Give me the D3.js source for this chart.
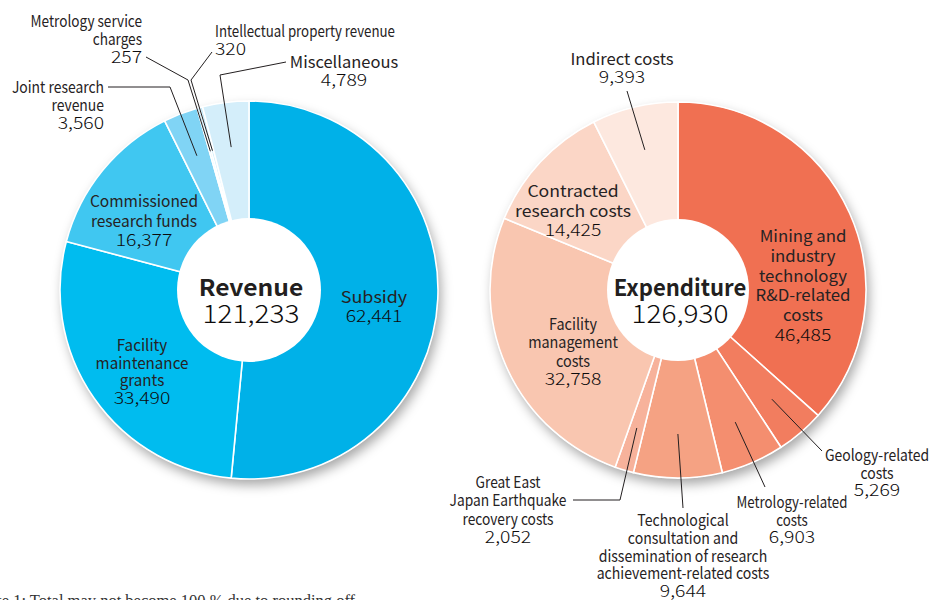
<!DOCTYPE html>
<html lang="en">
<head>
    <meta charset="UTF-8">
    <title>Revenue and Expenditure</title>
    <script src="https://d3js.org/d3.v7.min.js"></script>
    <style>
        body { margin: 0; background: #fff; }
        svg { display: block; }
        .lbl { font-family: "Noto Sans CJK JP", "Noto Sans", sans-serif; font-size: 16px; fill: #262223; }
        .num { font-family: "Noto Sans CJK JP Light", "Noto Sans CJK JP", "Noto Sans", sans-serif; font-weight: 300; fill: #0d0b0c; }
        .lead { fill: none; stroke: #231f20; stroke-width: 1; }
    </style>
</head>
<body>
<svg id="chart"></svg>
<script>
    // Revenue (left donut), clockwise from 12 o'clock
    var revenueNames = ["Subsidy", "Facility\nmaintenance\ngrants", "Commissioned\nresearch funds",
        "Joint research\nrevenue", "Metrology service\ncharges", "Intellectual property revenue", "Miscellaneous"];
    var revenueValues = [62441, 33490, 16377, 3560, 257, 320, 4789];
    var revenueTotal = 121233;

    // Expenditure (right donut), clockwise from 12 o'clock
    var expenditureNames = ["Mining and\nindustry\ntechnology\nR&D-related\ncosts", "Geology-related\ncosts",
        "Metrology-related\ncosts", "Technological\nconsultation and\ndissemination of research\nachievement-related costs",
        "Great East\nJapan Earthquake\nrecovery costs", "Facility\nmanagement\ncosts",
        "Contracted\nresearch costs", "Indirect costs"];
    var expenditureValues = [46485, 5269, 6903, 9644, 2052, 32758, 14425, 9393];
    var expenditureTotal = 126930;

    var revenueColors = ["#00b1e8", "#00bcef", "#40c7f1", "#80d4f5", "#b5e4f8", "#c6ebfa", "#d4eefa"];
    var expenditureColors = ["#f07052", "#f27d5f", "#f48e6f", "#f5a283", "#f7b29b", "#f9c6b0", "#fbd6c6", "#fde8df"];

    // label layout: x, first baseline, anchor, line height, leader elbows (label side first), horizontal squeeze
    var revenueLayout = [
        [374, 303, "middle", 19, null, 1.12],
        [142, 351, "middle", 17.7, null, 0.95],
        [144, 207, "middle", 19.5, null, 0.97],
        [104, 93, "end", 18.2, [[108, 87], [170, 87]], 0.87],
        [142, 27, "end", 18, [[146, 57], [188, 80]], 0.85],
        [215, 37, "start", 17.5, [[212, 52], [191, 80]], 0.83],
        [344, 68, "middle", 18, [[286, 62], [220, 75]], 1.03]
    ];
    var expenditureLayout = [
        [803, 242, "middle", 19.8, null, 1.05],
        [877, 461, "middle", 17.5, [[822, 451]], 0.87],
        [792, 508, "middle", 17.5, [[765, 487]], 0.83],
        [683, 526, "middle", 17.75, [[683, 508]], 0.88],
        [508, 488, "middle", 18.3, [[573, 500], [620, 500]], 0.86],
        [573, 330, "middle", 18.3, null, 0.9],
        [573, 197, "middle", 19.5, null, 1.1],
        [622, 65, "middle", 18, [[627, 91]], 1.04]
    ];

    var width = 930, height = 600;
    var svg = d3.select("#chart").attr("width", width).attr("height", height);

    var defs = svg.append("defs");
    defs.append("filter").attr("id", "shadow")
        .attr("x", "-20%").attr("y", "-20%").attr("width", "140%").attr("height", "140%")
        .append("feDropShadow")
        .attr("dx", 3).attr("dy", 6).attr("stdDeviation", 6)
        .attr("flood-color", "#000").attr("flood-opacity", 0.35);

    var fmt = d3.format(",");

    function addText(x, y, anchor, sx, size, txt, cls) {
        return svg.append("text").attr("class", cls || "lbl")
            .attr("text-anchor", anchor)
            .attr("transform", "translate(" + x + "," + y + ") scale(" + sx + ",1)")
            .style("font-size", size + "px")
            .text(txt);
    }

    function drawDonut(cx, cy, rOuter, rInner, names, values, colors, layout, title, titleSx, total) {
        var g = svg.append("g").attr("transform", "translate(" + cx + "," + cy + ")");
        var pie = d3.pie().sort(null).value(function(d) { return d; });
        var arcs = pie(values);
        var arc = d3.arc().innerRadius(0).outerRadius(rOuter);
        var leadArc = d3.arc().innerRadius(144).outerRadius(144);

        g.append("circle").attr("r", rOuter).attr("fill", "#fff").attr("filter", "url(#shadow)");

        g.selectAll("path.slice")
            .data(arcs)
            .enter().append("path")
            .attr("class", "slice")
            .attr("d", arc)
            .attr("fill", function(d, i) { return colors[i]; })
            .attr("stroke", "#fff")
            .attr("stroke-width", 1.6);

        g.append("circle").attr("r", rInner).attr("fill", "#fff");

        // leader lines from the outer labels into the thin slices
        arcs.forEach(function(d, i) {
            var pts = layout[i][4];
            if (!pts) return;
            var line = pts.map(function(p) { return [p[0] - cx, p[1] - cy]; });
            line.push(leadArc.centroid(d));
            g.append("path").attr("class", "lead").attr("d", d3.line()(line));
        });

        // labels: name lines then the value
        arcs.forEach(function(d, i) {
            var L = layout[i];
            var lines = names[i].split("\n");
            lines.forEach(function(s, k) {
                addText(L[0], L[1] + k * L[3], L[2], L[5], 16, s);
            });
            addText(L[0], L[1] + lines.length * L[3], L[2], 1.14, 17, fmt(values[i]), "num");
        });

        // centre title
        addText(cx + 2, cy + 6, "middle", titleSx, 23, title)
            .style("font-weight", "bold").style("fill", "#231f20");
        addText(cx + 2, cy + 33, "middle", 1.12, 25, fmt(total), "num");
    }

    drawDonut(249, 290, 189, 72, revenueNames, revenueValues, revenueColors, revenueLayout, "Revenue", 1.07, revenueTotal);
    drawDonut(678, 290, 188, 71, expenditureNames, expenditureValues, expenditureColors, expenditureLayout, "Expenditure", 0.96, expenditureTotal);

    // footnote, cut off at the left edge as in the original
    var note = svg.append("text")
        .attr("y", 606)
        .style("font-family", "'Liberation Serif', serif")
        .style("font-size", "16.5px")
        .style("fill", "#333")
        .text("Note 1: Total may not become 100 % due to rounding off");
    var probe = svg.append("text").style("font-family", "'Liberation Serif', serif")
        .style("font-size", "16.5px").text("Note 1: ");
    var pw = probe.node().getComputedTextLength();
    probe.remove();
    note.attr("x", 26 - pw);
</script>
</body>
</html>
